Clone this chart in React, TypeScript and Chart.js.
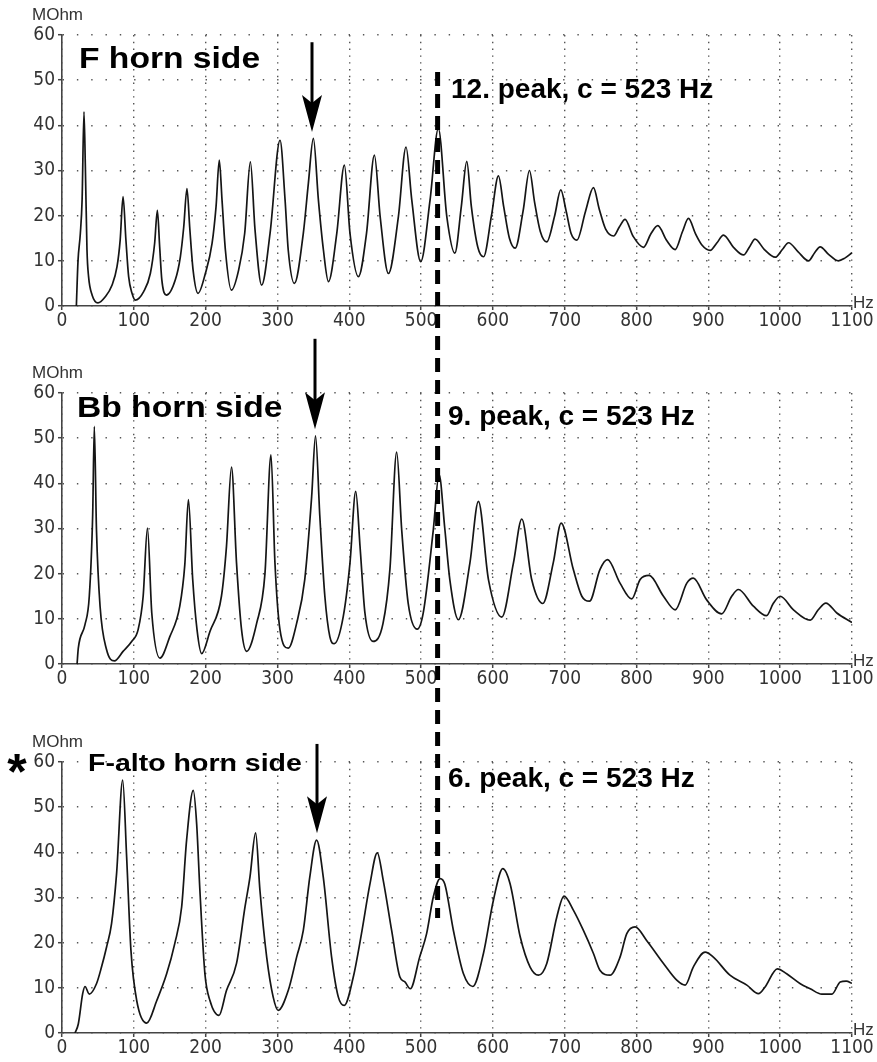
import React, { useEffect, useRef } from "react";
import { Chart, registerables } from "chart.js";

Chart.register(...registerables);

// ---------- data (frequency in Hz, input impedance in MOhm) ----------
const fHornHz = [
  20, 22.3, 25.5, 28, 30.6, 32.5, 34.8, 37, 42, 50, 60, 69.6, 76.6, 81, 85, 89, 92.8, 97.5, 102,
  113.7, 123, 129, 132.8, 136, 139, 145.3, 157.8, 164.8, 169.5, 174, 177.8, 182.5, 189.4, 199.6,
  209, 214.5, 219, 222.8, 227.5, 235.8, 246, 254.4, 262.3, 268.8, 278, 289.7, 303.6, 310.6, 315,
  323.6, 336, 343, 350, 357, 364, 371, 382.6, 393.2, 401, 412.7, 424, 435, 443, 454.5, 468.4, 479,
  487, 499.5, 512.5, 524, 535.8, 547, 556, 563.6, 570, 579, 587, 598, 607.7, 615, 623, 631, 642,
  650.9, 658, 666, 675, 686, 694.5, 702, 709, 717, 729, 740, 748, 757, 768, 776, 784, 795, 809.6,
  820, 829.6, 842, 853.8, 864, 872.3, 882, 891, 902.5, 912, 921, 935, 949, 957, 965, 978, 993,
  1003, 1011.6, 1025, 1039.4, 1048, 1055.7, 1067, 1081, 1090, 1100,
];
const fHornMOhm = [
  0, 10, 16, 23.5, 43, 31, 12.4, 6.5, 2.4, 0.7, 2, 4.6, 8.7, 14.6, 24.2, 14.6, 6.5, 2.8, 1.3,
  3.2, 7.2, 13.9, 21.2, 13.1, 5.8, 2.4, 5.8, 10.9, 17.5, 26, 17.5, 8, 2.8, 7.2,
  13.9, 22, 32.3, 23.5, 12.4, 3.5, 8, 16.1, 31.9, 16.8, 4.6, 16.1, 36.7, 23.5, 12.4,
  5, 16.1, 27.1, 37.1, 23.5, 12.4, 5.4, 16.1, 31.2, 16.1, 6.5, 16.1, 33.4, 19.8, 7.2, 19.8, 35.2,
  23.5, 9.8, 23.5, 39.3, 19.8, 11.7, 22, 32, 22, 13, 10.9, 20, 28.8, 22, 15, 12.8, 21,
  30, 23, 16.5, 14.2, 20, 25.7, 21, 16, 14.6, 21, 26.2, 21.5, 17, 15.5, 17.5, 19.2, 15.5, 13,
  16, 17.8, 14.5, 12.5, 16.5, 19.4, 16, 13.5, 12.3, 14, 15.7, 13, 11.3, 13, 14.8, 12.5, 10.8,
  12.5, 14, 12, 10, 11.8, 13.1, 11.5, 10, 10.6, 11.8,
];

const bbHornHz = [
  21, 22.7, 32, 38, 42.7, 45, 48, 53, 62, 73, 85, 97, 106, 113, 119, 125, 136.4, 150, 164, 171,
  176, 182, 188, 194.4, 206, 222, 229, 236, 243, 250, 257, 271, 282.6, 291, 296.5, 303.5, 315,
  326.7, 338, 347.6, 353, 359, 366, 373, 379, 391.6, 401, 409, 415, 421.8, 433, 447, 456.6, 466,
  473, 482, 494.7, 503, 517, 525, 533, 540, 552, 568, 579.8, 593.8, 612.4, 628.6, 640.2, 654,
  669.5, 684, 695, 712, 723.8, 734.5, 749, 759.6, 777, 793.3, 805, 817.5, 837.5, 853.8, 870, 879,
  897.7, 918.5, 932.5, 941.8, 962.7, 981, 990.7, 1000, 1018.5, 1041.8, 1053, 1063.6, 1078.9, 1100,
];
const bbHornMOhm = [
  0, 3.5, 8.7, 15, 33, 52.6, 29.7, 12.8, 3.2, 0.7, 2.8, 5, 7.6, 15, 30.1, 11.3, 1.3, 6, 12.8, 22,
  36.4, 18.7, 7.6, 2.3, 7.2, 15, 26, 43.6, 22.4, 7.6, 2.8, 9, 20, 46.3, 22.4, 7.6, 3.5,
  9, 18.7, 37, 50.5, 32.7, 15, 6, 4.5, 10.5, 22.4, 38.2, 26, 11.3, 5, 9, 21, 46.9,
  29.7, 13.5, 7.7, 11.3, 29.7, 42, 30, 18.7, 9.8, 22.4, 36, 18.7, 10.4, 22.4, 32.1, 18.7,
  13.4, 22.4, 31.2, 20.9, 15, 13.9, 20.9, 23.1, 17.9, 14.4, 18.7, 19.6, 15, 12, 17.9, 19,
  14.2, 11.1, 15, 16.5, 12.8, 10.7, 13.5, 15, 12, 9.7, 12, 13.5, 11.3, 9.2,
];

const fAltoHz = [
  18, 22.7, 28.8, 32, 38, 48, 55, 62, 69, 76, 84.5, 90, 96, 104, 118, 132, 145.7, 157, 166.6,
  173.5, 182.8, 187.5, 192, 199, 206, 218.6, 229, 243, 254.8, 261.7, 269.6, 275.6, 285, 294, 301,
  315, 326.7, 336, 345, 354.5, 363.8, 375.4, 384.7, 393, 405.6, 417, 428.8, 439, 447.3, 459,
  470.5, 477.5, 485, 498, 507.7, 517, 526.5, 533, 545, 559, 572, 586.8, 600.7, 613.8, 624, 638,
  651.8, 663.4, 675, 689, 699, 712, 726, 740, 749, 763, 777, 786.4, 798, 814, 837.5, 856, 867.7,
  879, 895.5, 907, 930, 953.6, 969.8, 979, 996, 1009, 1028, 1041.8, 1058, 1072, 1083.6, 1092, 1100,
];
const fAltoMOhm = [
  0, 2, 8.7, 10.3, 8.6, 10.9, 14.6, 19, 24.2, 35.3, 56, 39, 18.3, 7.2, 2.2, 7.2, 13.1, 19.8, 27.9,
  42.7, 53.7, 46.3, 31.6, 13.1, 7.2, 3.9, 9.4, 15.4, 27.9, 34.5, 44.3, 31.6, 16.8, 8, 5,
  9.4, 16.8, 22.7, 34.5, 42.7, 34.5, 16.8, 8, 6.1, 12.4, 22, 33, 39.9, 33.8, 22.7,
  12.4, 11.3, 9.8, 16.8, 22, 30.1, 34.2, 33, 22.7, 13.1, 10.3, 17.6, 29.4, 36.4, 33, 21.3,
  14.6, 12.8, 15.4, 25.7, 30.3, 27.2, 22.7, 17.6, 13.9, 12.8, 16.8, 22, 23.5, 20.5, 15.4, 11.7, 10.6,
  14.6, 17.9, 16.8, 12.8, 10.6, 8.7, 10.2, 14.2, 13.1, 10.9, 9.8, 8.6, 8.6, 11.3, 11.5, 11,
];

const xTickValues = [0, 100, 200, 300, 400, 500, 600, 700, 800, 900, 1000, 1100];
const xTickLabels = ["0", "100", "200", "300", "400", "500", "600", "700", "800", "900", "1000", "1100"];
const yTickValues = [0, 10, 20, 30, 40, 50, 60];
const yTickLabels = ["0", "10", "20", "30", "40", "50", "60"];

const markerHz = 523;

// ---------- panel layout ----------
type Panel = {
  hz: number[];
  val: number[];
  top: number;
  height: number;
  chartTop: number;
  chartBottom: number;
  title: string;
  titleX: number;
  titleY: number;
  titleSize: number;
  titleScale: number;
  peakLabel: string;
  peakX: number;
  peakY: number;
  arrowHz: number;
  arrowTip: number;
  arrowTail: number;
  star?: boolean;
};

const panels: Panel[] = [
  {
    hz: fHornHz, val: fHornMOhm, top: 0, height: 336, chartTop: 35, chartBottom: 306,
    title: "F horn side", titleX: 79, titleY: 68, titleSize: 30, titleScale: 1.12,
    peakLabel: "12. peak, c = 523 Hz", peakX: 451, peakY: 98,
    arrowHz: 348, arrowTip: 38.5, arrowTail: 58.4,
  },
  {
    hz: bbHornHz, val: bbHornMOhm, top: 336, height: 364, chartTop: 57, chartBottom: 328,
    title: "Bb horn side", titleX: 77, titleY: 81, titleSize: 30, titleScale: 1.12,
    peakLabel: "9. peak, c = 523 Hz", peakX: 448, peakY: 89,
    arrowHz: 352, arrowTip: 52, arrowTail: 72,
  },
  {
    hz: fAltoHz, val: fAltoMOhm, top: 700, height: 362, chartTop: 62, chartBottom: 333,
    title: "F-alto horn side", titleX: 88, titleY: 71, titleSize: 23, titleScale: 1.24,
    peakLabel: "6. peak, c = 523 Hz", peakX: 448, peakY: 87,
    arrowHz: 355, arrowTip: 44.2, arrowTail: 64, star: true,
  },
];

const DASH_TOP = 72;
const DASH_BOTTOM = 918;
const W = 877;

const tickFont = { family: "'Liberation Sans Narrow', 'Arial Narrow', 'DejaVu Sans Condensed', sans-serif", size: 19 };

function makeDecor(p: Panel) {
  return {
    id: "decor",
    afterDraw(chart: any) {
      const { ctx, chartArea, scales } = chart;
      const x = scales.x;
      const y = scales.y;
      ctx.save();
      // unit labels
      ctx.fillStyle = "#333";
      ctx.font = "17px 'Liberation Sans', Arial, sans-serif";
      ctx.textAlign = "left";
      ctx.textBaseline = "alphabetic";
      ctx.fillText("MOhm", 32, chartArea.top - 15);
      ctx.fillText("Hz", 853, chartArea.bottom + 2);

      // title (bold, slightly widened)
      ctx.fillStyle = "#000";
      ctx.save();
      ctx.translate(p.titleX, p.titleY);
      ctx.scale(p.titleScale, 1);
      ctx.font = `bold ${p.titleSize}px 'Liberation Sans', Arial, sans-serif`;
      ctx.fillText(p.title, 0, 0);
      ctx.restore();

      // peak label
      ctx.font = "bold 28px 'Liberation Sans', Arial, sans-serif";
      ctx.fillText(p.peakLabel, p.peakX, p.peakY);

      // asterisk
      if (p.star) {
        ctx.font = "bold 50px 'Liberation Sans', Arial, sans-serif";
        ctx.textAlign = "center";
        ctx.fillText("*", 17, 89);
        ctx.textAlign = "left";
      }

      // arrow
      const ax = Math.round(x.getPixelForValue(p.arrowHz));
      const tipY = y.getPixelForValue(p.arrowTip);
      const tailY = Math.max(0, y.getPixelForValue(p.arrowTail));
      ctx.strokeStyle = "#000";
      ctx.lineWidth = 3;
      ctx.beginPath();
      ctx.moveTo(ax, tailY);
      ctx.lineTo(ax, tipY - 28);
      ctx.stroke();
      ctx.beginPath();
      ctx.moveTo(ax, tipY);
      ctx.lineTo(ax - 10, tipY - 37);
      ctx.lineTo(ax, tipY - 29);
      ctx.lineTo(ax + 10, tipY - 37);
      ctx.closePath();
      ctx.fill();

      // dashed marker line at c = 523 Hz, continuous across panels
      const gTop = Math.max(DASH_TOP, p.top);
      const gBot = Math.min(DASH_BOTTOM, p.top + p.height);
      if (gBot > gTop) {
        const mx = x.getPixelForValue(markerHz);
        ctx.setLineDash([14, 8]);
        ctx.lineDashOffset = gTop - DASH_TOP;
        ctx.lineWidth = 5;
        ctx.beginPath();
        ctx.moveTo(mx, gTop - p.top);
        ctx.lineTo(mx, gBot - p.top);
        ctx.stroke();
      }
      ctx.restore();
    },
  };
}

function makeConfig(p: Panel): any {
  return {
    type: "line",
    data: {
      datasets: [
        {
          data: p.hz.map((h, i) => ({ x: h, y: p.val[i] })),
          borderColor: "#151515",
          borderWidth: 1.7,
          pointRadius: 0,
          fill: false,
          cubicInterpolationMode: "monotone",
        },
      ],
    },
    options: {
      responsive: false,
      animation: false,
      events: [],
      layout: { padding: { top: p.chartTop, right: W - 852, left: 0, bottom: 0 } },
      plugins: { legend: { display: false }, tooltip: { enabled: false }, title: { display: false } },
      scales: {
        x: {
          type: "linear",
          min: 0,
          max: 1100,
          afterFit: (s: any) => { s.height = p.height - p.chartBottom; },
          afterBuildTicks: (s: any) => { s.ticks = xTickValues.map((v) => ({ value: v })); },
          grid: { color: "#555", lineWidth: 1.4, tickLength: 4, tickColor: "#444", tickWidth: 1.5 },
          border: { display: true, color: "#444", width: 1.6, dash: [1.4, 5.4] },
          ticks: {
            padding: 0, color: "#333", font: tickFont, maxRotation: 0, autoSkip: false,
            callback: (v: number) => { const i = xTickValues.indexOf(v); return i >= 0 ? xTickLabels[i] : ""; },
          },
        },
        y: {
          type: "linear",
          min: 0,
          max: 60,
          afterFit: (s: any) => { s.width = 62; },
          afterBuildTicks: (s: any) => { s.ticks = yTickValues.map((v) => ({ value: v })); },
          grid: { color: "#555", lineWidth: 1.4, tickLength: 4, tickColor: "#444", tickWidth: 1.5 },
          border: { display: true, color: "#444", width: 1.6, dash: [1.4, 12.9] },
          ticks: {
            padding: 3, color: "#333", font: tickFont, autoSkip: false,
            callback: (v: number) => { const i = yTickValues.indexOf(v); return i >= 0 ? yTickLabels[i] : ""; },
          },
        },
      },
    },
    plugins: [makeDecor(p)],
  };
}

export default function App() {
  const r0 = useRef<HTMLCanvasElement>(null);
  const r1 = useRef<HTMLCanvasElement>(null);
  const r2 = useRef<HTMLCanvasElement>(null);
  const refs = [r0, r1, r2];

  useEffect(() => {
    const charts: Chart[] = [];
    panels.forEach((p, i) => {
      const c = refs[i].current;
      if (c) charts.push(new Chart(c, makeConfig(p)));
    });
    return () => charts.forEach((ch) => ch.destroy());
  }, []);

  return (
    <div style={{ position: "absolute", left: 0, top: 0, width: W, height: 1062, background: "#fff", overflow: "hidden" }}>
      {panels.map((p, i) => (
        <canvas
          key={i}
          ref={refs[i]}
          width={W}
          height={p.height}
          style={{ position: "absolute", left: 0, top: p.top, width: W, height: p.height, display: "block" }}
        />
      ))}
    </div>
  );
}
